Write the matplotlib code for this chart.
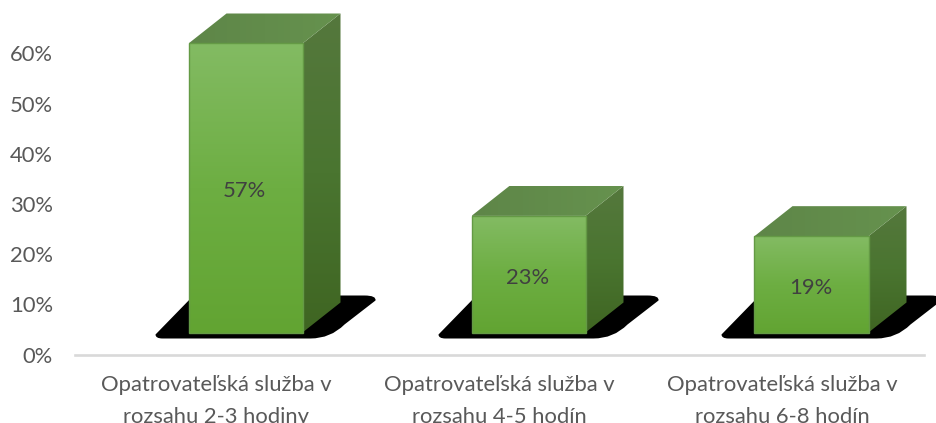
import numpy as np
import matplotlib
matplotlib.use('Agg')
import matplotlib.pyplot as plt
from matplotlib.patches import PathPatch, Polygon
from matplotlib.path import Path
from matplotlib.colors import LinearSegmentedColormap

W, H = 936, 423

categories = ['Opatrovateľská služba v\nrozsahu 2-3 hodiny',
              'Opatrovateľská služba v\nrozsahu 4-5 hodín',
              'Opatrovateľská služba v\nrozsahu 6-8 hodín']
values = [57, 23, 19]
yticks = [0, 10, 20, 30, 40, 50, 60]

plt.rcParams['font.family'] = ['Lato', 'DejaVu Sans']

#plot area in pixels, y axis 0% sits at 354 and 60% at 53
LEFT, RIGHT, Y0 = 74.5, 923.5, 354.5
PX_Y = 5.02
PX_X = (RIGHT - LEFT) / 3

fig = plt.figure(figsize=(W / 100, H / 100), dpi=100)
ax = fig.add_axes([LEFT / W, 1 - Y0 / H, (RIGHT - LEFT) / W, Y0 / H])
ax.patch.set_alpha(0)


def px(dx):
    return dx / PX_X


def py(dy):
    return dy / PX_Y


BAR_SCALE = 1.01  # 3D bars come out a bit taller than the axis scale
BASE = py(22)
OFFSET = px(29.5)
HALF = px(57)
DEPTH_X = px(38)
DEPTH_Y = py(30)


def gradient_face(verts, colors, horizontal=False, z=3):
    '''Fill a polygon with a linear gradient, clipped to its outline.'''
    verts = np.array(verts)
    cmap = LinearSegmentedColormap.from_list('face', colors)
    g = np.linspace(0, 1, 256).reshape(-1, 1)
    if horizontal:
        g = np.linspace(0, 1, 256).reshape(1, -1)
    ext = [verts[:, 0].min(), verts[:, 0].max(), verts[:, 1].min(), verts[:, 1].max()]
    im = ax.imshow(g, extent=ext, cmap=cmap, vmin=0, vmax=1, aspect='auto', zorder=z, origin='lower')
    poly = Polygon(verts, closed=True, transform=ax.transData)
    im.set_clip_path(poly)


def shadow(x0, x1):
    '''Black rounded floor shadow under a bar.'''
    b = BASE - py(6)
    t = BASE + py(37)
    verts = [(x0 - px(33), b + py(4)),
             (x0 - px(33), b), (x0 - px(26), b),
             (x1 + px(8), b),
             (x1 + px(28), b), (x1 + px(42), b + py(14)),
             (x1 + px(73), t - py(5)),
             (x1 + px(74), t), (x1 + px(62), t),
             (x0 + px(5), t),
             (x0 - px(33), b + py(4))]
    codes = [Path.MOVETO, Path.CURVE3, Path.CURVE3, Path.LINETO, Path.CURVE3, Path.CURVE3,
             Path.LINETO, Path.CURVE3, Path.CURVE3, Path.LINETO, Path.CLOSEPOLY]
    ax.add_patch(PathPatch(Path(verts, codes), facecolor='black', edgecolor='none', zorder=2, clip_on=False))


for i, v in enumerate(values):
    x0 = i + OFFSET - HALF
    x1 = i + OFFSET + HALF
    top = BASE + v * BAR_SCALE
    shadow(x0, x1)

    front = [(x0, BASE), (x1, BASE), (x1, top), (x0, top)]
    side = [(x1, BASE), (x1 + DEPTH_X, BASE + DEPTH_Y), (x1 + DEPTH_X, top + DEPTH_Y), (x1, top)]
    lid = [(x0, top), (x1, top), (x1 + DEPTH_X, top + DEPTH_Y), (x0 + DEPTH_X, top + DEPTH_Y)]

    gradient_face(front, ['#62A432', '#6DAE42', '#83BB63'])
    gradient_face(side, ['#3F6522', '#4A7530', '#55783D'])
    gradient_face(lid, ['#5E8648', '#66924E'], horizontal=True)
    ax.add_patch(Polygon(front, closed=True, fill=False, edgecolor='#649A45', linewidth=1, zorder=4))

    ax.text(i + OFFSET - px(1), BASE + v * BAR_SCALE / 2 - py(3.5), f'{v}%', ha='center', va='center',
            fontsize=15.8, color='#404040', zorder=5)

ax.set_xlim(-0.5, 2.5)
ax.set_ylim(0, Y0 / PX_Y)
ax.set_xticks(range(3))
ax.set_xticklabels(categories, fontsize=15.8, color='#595959', linespacing=1.72)
ax.set_yticks(yticks)
ax.set_yticklabels([f'{t}%' for t in yticks], fontsize=15.8, color='#595959')
ax.tick_params(axis='both', length=0)
ax.tick_params(axis='x', pad=15)
ax.tick_params(axis='y', pad=15.5)
for s in ['top', 'right', 'left']:
    ax.spines[s].set_visible(False)
ax.spines['bottom'].set_color('#D9D9D9')
ax.spines['bottom'].set_linewidth(1.9)

fig.savefig('out.png', dpi=100)
